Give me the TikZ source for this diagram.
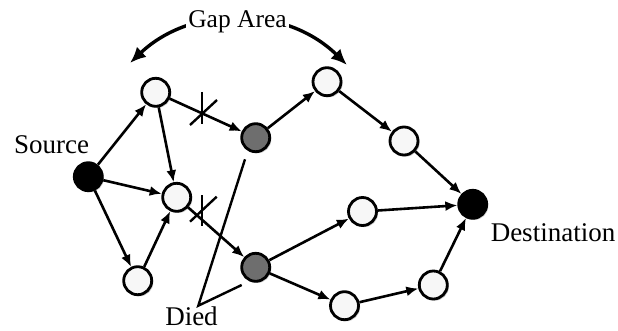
\documentclass[tikz,border=0pt]{standalone}
\usepackage{fontspec}
\setmainfont{Liberation Serif}
\usetikzlibrary{arrows.meta,shadows}
\begin{document}
\begin{tikzpicture}[x=1pt,y=1pt,
  nd/.style={circle,draw=black,line width=2.8pt,minimum size=28pt,inner sep=0pt,
    drop shadow={shadow xshift=1.6pt,shadow yshift=-1.6pt,opacity=0.35,fill=black!60}},
  wnode/.style={nd,fill=black!3},
  gnode/.style={nd,fill=black!57},
  bnode/.style={nd,fill=black},
  edge/.style={line width=2.6pt,-{Latex[length=12pt,width=10pt]}},
  cut/.style={line width=2.4pt},
  lbl/.style={font=\fontsize{27}{30}\selectfont,inner sep=0pt,anchor=base},
]
\useasboundingbox (0,0) rectangle (618,330);
\fill[white] (0,0) rectangle (618,330);

% nodes
\node[bnode] (S) at (88.3,153.3) {};
\node[wnode] (A) at (155.7,237.7) {};
\node[wnode] (B) at (176.7,132.7) {};
\node[wnode] (C) at (137.7,49.3) {};
\node[gnode] (D) at (255.7,192.3) {};
\node[gnode] (E) at (255.7,62.7) {};
\node[wnode] (F) at (327,248.3) {};
\node[wnode] (I) at (404,189) {};
\node[bnode] (T) at (472.7,125.7) {};
\node[wnode] (G) at (362.5,118.5) {};
\node[wnode] (H) at (344.5,24.3) {};
\node[wnode] (J) at (433.3,45) {};

% edges
\draw[edge] (S) -- (A);
\draw[edge] (S) -- (B);
\draw[edge] (S) -- (C);
\draw[edge] (A) -- (B);
\draw[edge] (C) -- (B);
\draw[edge] (A) -- (D);
\draw[edge] (B) -- (E);
\draw[edge] (D) -- (F);
\draw[edge] (F) -- (I);
\draw[edge] (I) -- (T);
\draw[edge] (E) -- (G);
\draw[edge] (G) -- (T);
\draw[edge] (E) -- (H);
\draw[edge] (H) -- (J);
\draw[edge] (J) -- (T);

% cut marks
\coordinate (x1a) at (201.7,238);
\coordinate (x1b) at (201.7,206);
\coordinate (x1c) at (190,205);
\coordinate (x1d) at (217,230);
\draw[cut] (x1a) -- (x1b);
\draw[cut] (x1c) -- (x1d);
\coordinate (x2a) at (201.7,135);
\coordinate (x2b) at (201.7,104);
\coordinate (x2c) at (190,108.3);
\coordinate (x2d) at (216.7,133.3);
\draw[cut] (x2a) -- (x2b);
\draw[cut] (x2c) -- (x2d);

% Died pointer
\coordinate (d1) at (245,170.7);
\coordinate (dv) at (198.3,24.3);
\coordinate (d2) at (241.7,45);
\draw[line width=2.4pt] (d1) -- (dv) -- (d2);

% Gap area arc
\coordinate (g1) at (130,267);
\coordinate (g2) at (347,265);
\draw[line width=3.4pt,{Latex[length=16pt,width=14pt]}-{Latex[length=16pt,width=14pt]}] (g1) to[bend left=44] (g2);

% labels
\node[lbl,font=\fontsize{25.5}{28}\selectfont,fill=white,inner sep=2pt] (gap) at (237.5,302.7) {Gap Area};
\node[lbl] (src) at (51.5,176.7) {Source};
\node[lbl] (dst) at (553,88.3) {Destination};
\node[lbl] (died) at (191.5,5) {Died};
\end{tikzpicture}
\end{document}
